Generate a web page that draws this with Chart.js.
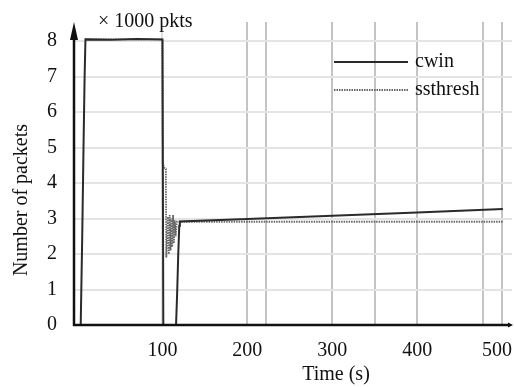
<!DOCTYPE html>
<html>
<head>
<meta charset="utf-8">
<script src="https://cdn.jsdelivr.net/npm/chart.js@4/dist/chart.umd.min.js"></script>
<style>
  html, body { margin: 0; padding: 0; background: #fff; }
  #wrap { width: 514px; height: 387px; }
</style>
</head>
<body>
<div id="wrap"><canvas id="grafico" width="514" height="387"></canvas></div>
<script>
// datos (tiempo en s, paquetes en miles)
const cwinTime  = [0, 3.7, 5.5, 7, 8.3, 9.3, 40, 70, 100, 101, 116, 117.3, 118.6, 119.8, 120.5, 200, 300, 400, 501];
const cwinValue = [0, 0, 2.5, 5, 7, 8.05, 8.04, 8.06, 8.05, 0, 0, 0.9, 2.0, 2.8, 2.92, 2.99, 3.08, 3.17, 3.27];

const ssTime  = [9.3, 50, 100, 100.4, 102.5, 104, 104.5, 106.5, 107.5, 108.5, 109.5, 110.5, 111.5, 112.5, 113.5, 114.5, 115.5, 117, 120, 501];
const ssValue = [8.05, 8.05, 8.05, 4.55, 4.42, 4.4, 1.9, 3.05, 2.0, 3.1, 2.1, 3.0, 2.2, 3.1, 2.3, 2.95, 2.5, 2.91, 2.91, 2.91];

const xGridTicks = [100, 200, 222, 300, 350, 400, 478, 500];
const xLabelTicks = [100, 200, 300, 400, 500];
const yTicks = [0, 1, 2, 3, 4, 5, 6, 7, 8];

const fuente = "Liberation Serif";

const toPts = (xs, ys) => xs.map((x, i) => ({ x: x, y: ys[i] }));

// ejes con flechas, titulos y leyenda
const extras = {
  id: "extras",
  afterDraw(chart) {
    const ctx = chart.ctx;
    const ys = chart.scales.y;
    const left = chart.chartArea.left, top = chart.chartArea.top;
    const y0 = ys.getPixelForValue(0);
    const right = chart.chartArea.right;
    ctx.save();
    ctx.strokeStyle = "#111";
    ctx.fillStyle = "#111";
    ctx.lineWidth = 2.5;
    ctx.beginPath();
    ctx.moveTo(left, y0 + 1);
    ctx.lineTo(left, top + 12);
    ctx.moveTo(left - 1, y0);
    ctx.lineTo(right - 2, y0);
    ctx.stroke();
    // flecha y
    ctx.beginPath();
    ctx.moveTo(left, top);
    ctx.lineTo(left - 4, top + 18);
    ctx.lineTo(left + 4, top + 18);
    ctx.closePath();
    ctx.fill();
    // flecha x
    ctx.beginPath();
    ctx.moveTo(right + 1, y0);
    ctx.lineTo(right - 4, y0 - 2.5);
    ctx.lineTo(right - 4, y0 + 2.5);
    ctx.closePath();
    ctx.fill();

    ctx.font = "20px '" + fuente + "'";
    ctx.textBaseline = "middle";
    ctx.textAlign = "left";
    ctx.fillText("\u00d7 1000 pkts", 98, 22);

    ctx.textAlign = "center";
    ctx.fillText("Time (s)", 336, 375);

    ctx.save();
    ctx.translate(22, 200);
    ctx.rotate(-Math.PI / 2);
    ctx.fillText("Number of packets", 0, 0);
    ctx.restore();

    // leyenda
    const ds = chart.data.datasets;
    const filas = [62, 90];
    ds.forEach((d, i) => {
      ctx.save();
      ctx.strokeStyle = d.borderColor;
      ctx.lineWidth = d.borderWidth;
      ctx.setLineDash(d.borderDash || []);
      ctx.beginPath();
      ctx.moveTo(334, filas[i]);
      ctx.lineTo(408, filas[i]);
      ctx.stroke();
      ctx.restore();
      ctx.textAlign = "left";
      ctx.fillStyle = "#111";
      ctx.fillText(d.label, 415, filas[i]);
    });
    ctx.restore();
  }
};

const ctx = document.getElementById("grafico").getContext("2d");
new Chart(ctx, {
  type: "scatter",
  data: {
    datasets: [
      {
        label: "cwin",
        data: toPts(cwinTime, cwinValue),
        showLine: true,
        borderColor: "#2a2a2a",
        borderWidth: 2,
        pointRadius: 0,
        tension: 0
      },
      {
        label: "ssthresh",
        data: toPts(ssTime, ssValue),
        showLine: true,
        borderColor: "#666",
        borderWidth: 1.8,
        borderDash: [1.5, 1],
        pointRadius: 0,
        tension: 0
      }
    ]
  },
  options: {
    responsive: false,
    animation: false,
    layout: { padding: { top: 22, right: 2, left: 0, bottom: 0 } },
    plugins: {
      legend: { display: false },
      tooltip: { enabled: false }
    },
    scales: {
      x: {
        type: "linear",
        min: -4.2,
        max: 511.7,
        afterBuildTicks: s => { s.ticks = xGridTicks.map(v => ({ value: v })); },
        afterFit: s => { s.height = 62; s.paddingLeft = 0; s.paddingRight = 0; },
        border: { display: false },
        grid: {
          drawTicks: false,
          lineWidth: 2,
          color: c => (c.tick && c.tick.value === 100) ? "#e2e2e2" : "#c4c4c4"
        },
        ticks: {
          padding: 14,
          maxRotation: 0,
          autoSkip: false,
          color: "#111",
          font: { family: fuente, size: 20 },
          // el ultimo rotulo queda algo a la izquierda, como en la figura
          callback: v => !xLabelTicks.includes(v) ? "" : (v === 500 ? "500\u2002" : String(v))
        }
      },
      y: {
        min: 0,
        max: 8.54,
        afterBuildTicks: s => { s.ticks = yTicks.map(v => ({ value: v })); },
        afterFit: s => { s.width = 74; s.paddingTop = 0; s.paddingBottom = 0; },
        border: { display: false },
        grid: {
          drawTicks: false,
          lineWidth: 2,
          color: "#e4e4e4"
        },
        ticks: {
          padding: 17,
          color: "#111",
          font: { family: fuente, size: 20 }
        }
      }
    }
  },
  plugins: [extras]
});
</script>
</body>
</html>
